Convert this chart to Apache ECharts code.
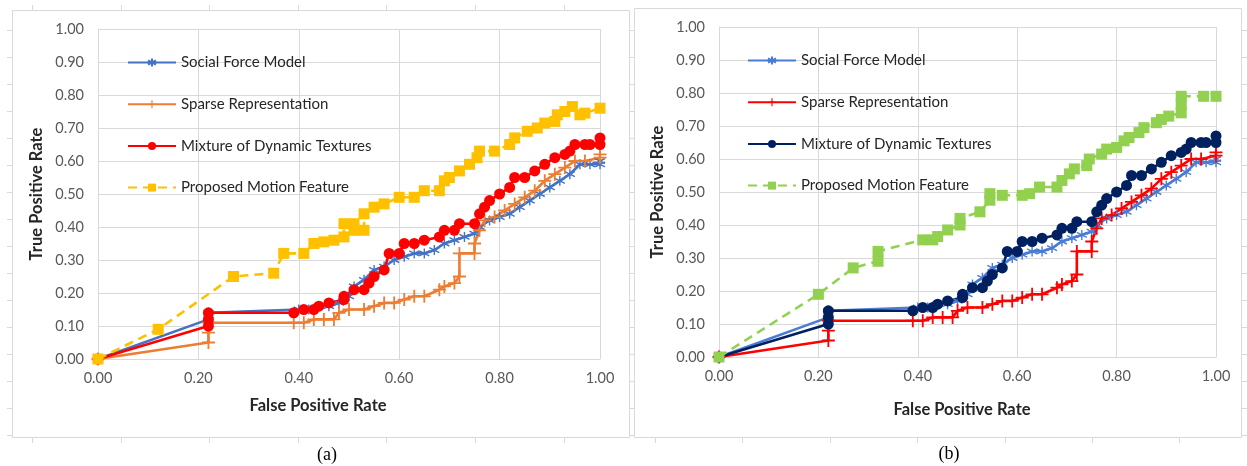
<!DOCTYPE html>
<html><head><meta charset="utf-8">
<script src="https://cdn.jsdelivr.net/npm/echarts@6/dist/echarts.min.js"></script>
<style>html,body{margin:0;padding:0;background:#fff;}#c{width:1247px;height:466px;}</style>
</head><body><div id="c"></div>
<script>
// ---- data (x = False Positive Rate, y = True Positive Rate) ----
const seriesNames = ['Social Force Model', 'Sparse Representation', 'Mixture of Dynamic Textures', 'Proposed Motion Feature'];
const socialForce = [[0,0],[0.22,0.12],[0.22,0.14],[0.40,0.15],[0.42,0.15],[0.44,0.16],[0.46,0.16],[0.48,0.17],[0.50,0.19],[0.51,0.22],[0.53,0.24],[0.55,0.27],[0.57,0.28],[0.59,0.30],[0.61,0.31],[0.63,0.32],[0.65,0.32],[0.67,0.33],[0.69,0.35],[0.71,0.36],[0.73,0.37],[0.75,0.38],[0.76,0.40],[0.78,0.42],[0.80,0.43],[0.82,0.44],[0.84,0.46],[0.86,0.48],[0.88,0.50],[0.90,0.52],[0.92,0.54],[0.94,0.56],[0.96,0.59],[0.98,0.59],[1.00,0.59],[1.00,0.60]];
const sparseRep = [[0,0],[0.22,0.05],[0.22,0.08],[0.22,0.11],[0.39,0.11],[0.41,0.11],[0.43,0.12],[0.45,0.12],[0.47,0.12],[0.48,0.14],[0.50,0.15],[0.53,0.15],[0.55,0.16],[0.57,0.17],[0.59,0.17],[0.61,0.18],[0.63,0.19],[0.65,0.19],[0.68,0.21],[0.69,0.22],[0.71,0.23],[0.72,0.25],[0.72,0.32],[0.75,0.32],[0.75,0.35],[0.76,0.39],[0.77,0.42],[0.79,0.43],[0.81,0.45],[0.83,0.47],[0.85,0.49],[0.87,0.51],[0.89,0.54],[0.91,0.56],[0.93,0.58],[0.95,0.60],[0.97,0.60],[1.00,0.61],[1.00,0.62]];
const mixtureDT = [[0,0],[0.22,0.10],[0.22,0.12],[0.22,0.14],[0.39,0.14],[0.41,0.15],[0.43,0.15],[0.44,0.16],[0.46,0.17],[0.49,0.18],[0.49,0.19],[0.51,0.21],[0.53,0.21],[0.54,0.23],[0.55,0.25],[0.57,0.27],[0.58,0.32],[0.60,0.32],[0.61,0.35],[0.63,0.35],[0.65,0.36],[0.68,0.37],[0.69,0.39],[0.71,0.39],[0.72,0.41],[0.75,0.41],[0.76,0.44],[0.77,0.46],[0.78,0.48],[0.80,0.50],[0.82,0.52],[0.83,0.55],[0.85,0.55],[0.87,0.57],[0.89,0.59],[0.91,0.61],[0.93,0.62],[0.94,0.63],[0.95,0.65],[0.97,0.65],[0.98,0.65],[1.00,0.65],[1.00,0.67]];
const proposedA = [[0,0],[0.12,0.09],[0.27,0.25],[0.35,0.26],[0.37,0.32],[0.41,0.32],[0.43,0.35],[0.45,0.355],[0.47,0.36],[0.49,0.37],[0.49,0.41],[0.51,0.39],[0.51,0.41],[0.53,0.39],[0.53,0.44],[0.55,0.46],[0.57,0.47],[0.60,0.49],[0.63,0.49],[0.65,0.51],[0.68,0.51],[0.69,0.54],[0.70,0.55],[0.72,0.57],[0.74,0.59],[0.755,0.61],[0.76,0.63],[0.79,0.63],[0.82,0.65],[0.83,0.67],[0.855,0.69],[0.875,0.70],[0.89,0.715],[0.91,0.72],[0.915,0.74],[0.93,0.75],[0.945,0.765],[0.96,0.74],[0.97,0.745],[1.00,0.76]];
const proposedB = [[0,0],[0.20,0.19],[0.27,0.27],[0.32,0.29],[0.32,0.32],[0.41,0.355],[0.43,0.355],[0.44,0.365],[0.46,0.385],[0.485,0.40],[0.485,0.42],[0.525,0.44],[0.545,0.475],[0.545,0.495],[0.57,0.49],[0.61,0.49],[0.625,0.495],[0.645,0.515],[0.68,0.515],[0.69,0.535],[0.705,0.555],[0.715,0.57],[0.74,0.58],[0.745,0.60],[0.77,0.615],[0.78,0.63],[0.80,0.635],[0.815,0.655],[0.825,0.665],[0.845,0.68],[0.855,0.695],[0.88,0.71],[0.89,0.72],[0.905,0.73],[0.93,0.74],[0.93,0.765],[0.93,0.79],[0.975,0.79],[1.00,0.79]];
const axisTitles = { x: 'False Positive Rate', y: 'True Positive Rate' };
const captions = ['(a)', '(b)'];

// ---- styles ----
const FONT = 'Lato, "Open Sans", sans-serif';
const ASTER = 'path://M10 0 L10 20 M1.34 5 L18.66 15 M1.34 15 L18.66 5';
const PLUS = 'path://M8.6 0 H11.4 V8.6 H20 V11.4 H11.4 V20 H8.6 V11.4 H0 V8.6 H8.6 Z';
const colorsA = ['#4472C4', '#ED7D31', '#FF0000', '#FFC000'];
const colorsB = ['#4A7CD4', '#FF0000', '#002060', '#92D050'];

function mkSeries(prefix, gi, data, idx, colors) {
  const c = colors[idx];
  const base = {
    name: prefix + seriesNames[idx], type: 'line', data: data,
    xAxisIndex: gi, yAxisIndex: gi, clip: false, animation: false,
    lineStyle: { color: c, width: 2.6 }, emphasis: { disabled: true }
  };
  if (idx === 0) {
    base.symbol = ASTER; base.symbolSize = 10;
    base.itemStyle = { color: 'rgba(0,0,0,0)', borderColor: c, borderWidth: 1.4 };
  } else if (idx === 1) {
    base.symbol = PLUS; base.symbolSize = 13;
    base.itemStyle = { color: c };
  } else if (idx === 2) {
    base.symbol = 'circle'; base.symbolSize = 11;
    base.itemStyle = { color: c };
  } else {
    base.symbol = 'rect'; base.symbolSize = 11;
    base.itemStyle = { color: c };
    base.lineStyle.type = [9, 6];
  }
  return base;
}

const grids = [
  { left: 98, top: 29, width: 502, height: 330 },
  { left: 719, top: 27, width: 497, height: 330 }
];
function mkX(gi) {
  return { type: 'value', gridIndex: gi, min: 0, max: 1, interval: 0.2,
    axisLine: { show: true, lineStyle: { color: '#D9D9D9' } }, axisTick: { show: false },
    splitLine: { show: true, lineStyle: { color: '#D9D9D9' } },
    axisLabel: { color: '#595959', fontFamily: FONT, fontSize: 14.5, margin: 12, formatter: v => v.toFixed(2) } };
}
function mkY(gi) {
  return { type: 'value', gridIndex: gi, min: 0, max: 1, interval: 0.1,
    axisLine: { show: true, lineStyle: { color: '#D9D9D9' } }, axisTick: { show: false },
    splitLine: { show: true, lineStyle: { color: '#D9D9D9' } },
    axisLabel: { color: '#595959', fontFamily: FONT, fontSize: 14.5, margin: 14, formatter: v => v.toFixed(2) } };
}
function mkLegend(prefix, left, top) {
  return { orient: 'vertical', left: left, top: top, padding: 0, itemWidth: 48, itemHeight: 10, itemGap: 26.7,
    selectedMode: false, data: seriesNames.map(n => prefix + n),
    formatter: n => n.replace(/^[ab]:/, ''),
    textStyle: { color: '#262626', fontFamily: FONT, fontSize: 15, lineHeight: 14 } };
}

const series = [];
[socialForce, sparseRep, mixtureDT, proposedA].forEach((d, i) => series.push(mkSeries('a:', 0, d, i, colorsA)));
[socialForce, sparseRep, mixtureDT, proposedB].forEach((d, i) => series.push(mkSeries('b:', 1, d, i, colorsB)));

// frame + decorative ruler ticks
const gfx = [];
gfx.push({ type: 'rect', shape: { x: 12.5, y: 10.5, width: 617, height: 427 }, style: { fill: 'none', stroke: '#D9D9D9', lineWidth: 1 }, silent: true });
gfx.push({ type: 'rect', shape: { x: 634.5, y: 8.5, width: 607, height: 429 }, style: { fill: 'none', stroke: '#D9D9D9', lineWidth: 1 }, silent: true });
const tk = { stroke: '#D9D9D9', lineWidth: 1 };
for (let i = 0; i < 7; i++) {
  const x = Math.round(32 + 88.6 * i) + 0.5;
  gfx.push({ type: 'line', shape: { x1: x, y1: 5, x2: x, y2: 10 }, style: tk, silent: true });
  gfx.push({ type: 'line', shape: { x1: x, y1: 438, x2: x, y2: 443 }, style: tk, silent: true });
  const xb = Math.round(655 + 87.4 * i) + 0.5;
  gfx.push({ type: 'line', shape: { x1: xb, y1: 438, x2: xb, y2: 443 }, style: tk, silent: true });
}
for (let i = 0; i < 16; i++) {
  const y = Math.round(30 + 27 * i) + 0.5;
  gfx.push({ type: 'line', shape: { x1: 7, y1: y, x2: 12, y2: y }, style: tk, silent: true });
  gfx.push({ type: 'line', shape: { x1: 629, y1: y, x2: 634, y2: y }, style: tk, silent: true });
  gfx.push({ type: 'line', shape: { x1: 1242, y1: y, x2: 1247, y2: y }, style: tk, silent: true });
}
const titleStyle = { fill: '#262626', font: 'bold 16.5px ' + FONT, textAlign: 'center', textVerticalAlign: 'middle' };
gfx.push({ type: 'text', x: 318, y: 406, style: Object.assign({ text: axisTitles.x }, titleStyle), silent: true });
gfx.push({ type: 'text', x: 962, y: 410, style: Object.assign({ text: axisTitles.x }, titleStyle), silent: true });
gfx.push({ type: 'text', x: 36.5, y: 194, rotation: Math.PI / 2, style: Object.assign({ text: axisTitles.y }, titleStyle), silent: true });
gfx.push({ type: 'text', x: 658, y: 192, rotation: Math.PI / 2, style: Object.assign({ text: axisTitles.y }, titleStyle), silent: true });
const capStyle = { fill: '#000', font: '18px "Liberation Serif", "DejaVu Serif", serif', textAlign: 'center', textVerticalAlign: 'middle' };
gfx.push({ type: 'text', x: 327, y: 455, style: Object.assign({ text: captions[0] }, capStyle), silent: true });
gfx.push({ type: 'text', x: 949, y: 454, style: Object.assign({ text: captions[1] }, capStyle), silent: true });

const chart = echarts.init(document.getElementById('c'), null, { renderer: 'canvas' });
chart.setOption({
  backgroundColor: '#fff', animation: false,
  grid: grids,
  xAxis: [mkX(0), mkX(1)],
  yAxis: [mkY(0), mkY(1)],
  legend: [mkLegend('a:', 127, 55), mkLegend('b:', 747, 53)],
  series: series,
  graphic: gfx
});
</script></body></html>
